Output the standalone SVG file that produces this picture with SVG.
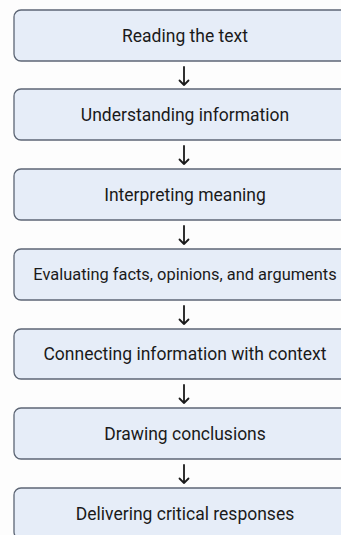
<svg xmlns="http://www.w3.org/2000/svg" width="341" height="535" viewBox="0 0 341 535">
<style>
.box{fill:#e6edf8;stroke:#5d6675;stroke-width:1.3}
.lbl{font-family:Roboto,"Liberation Sans",Arial,sans-serif;font-size:17.5px;fill:#1a1a1a;text-anchor:middle;dominant-baseline:central}
.arr{fill:none;stroke:#1a1a1a;stroke-width:1.8;stroke-linecap:round;stroke-linejoin:round}
</style>
<rect width="341" height="535" fill="#fdfdfd"/>
<g id="n1"><rect class="box" x="14" y="10" width="342" height="51" rx="7"/><text class="lbl" x="185" y="35.5">Reading the text</text></g>
<g id="n2"><rect class="box" x="14" y="89" width="342" height="51" rx="7"/><text class="lbl" x="185" y="114.5">Understanding information</text></g>
<g id="n3"><rect class="box" x="14" y="169" width="342" height="51" rx="7"/><text class="lbl" x="185" y="194.5">Interpreting meaning</text></g>
<g id="n4"><rect class="box" x="14" y="249" width="342" height="51" rx="7"/><text class="lbl" x="185" y="274.5" style="font-size:16.4px">Evaluating facts, opinions, and arguments</text></g>
<g id="n5"><rect class="box" x="14" y="329" width="342" height="50" rx="7"/><text class="lbl" x="185" y="354">Connecting information with context</text></g>
<g id="n6"><rect class="box" x="14" y="408" width="342" height="51" rx="7"/><text class="lbl" x="185" y="433.5">Drawing conclusions</text></g>
<g id="n7"><rect class="box" x="14" y="488" width="342" height="51" rx="7"/><text class="lbl" x="185" y="513.5">Delivering critical responses</text></g>
<g id="connectors">
<path class="arr" d="M184 67V85M179.5 80.5L184 85L188.5 80.5"/>
<path class="arr" d="M184 146V164M179.5 159.5L184 164L188.5 159.5"/>
<path class="arr" d="M184 226V244M179.5 239.5L184 244L188.5 239.5"/>
<path class="arr" d="M184 306V324M179.5 319.5L184 324L188.5 319.5"/>
<path class="arr" d="M184 385V403M179.5 398.5L184 403L188.5 398.5"/>
<path class="arr" d="M184 465V483M179.5 478.5L184 483L188.5 478.5"/>
</g>
</svg>
